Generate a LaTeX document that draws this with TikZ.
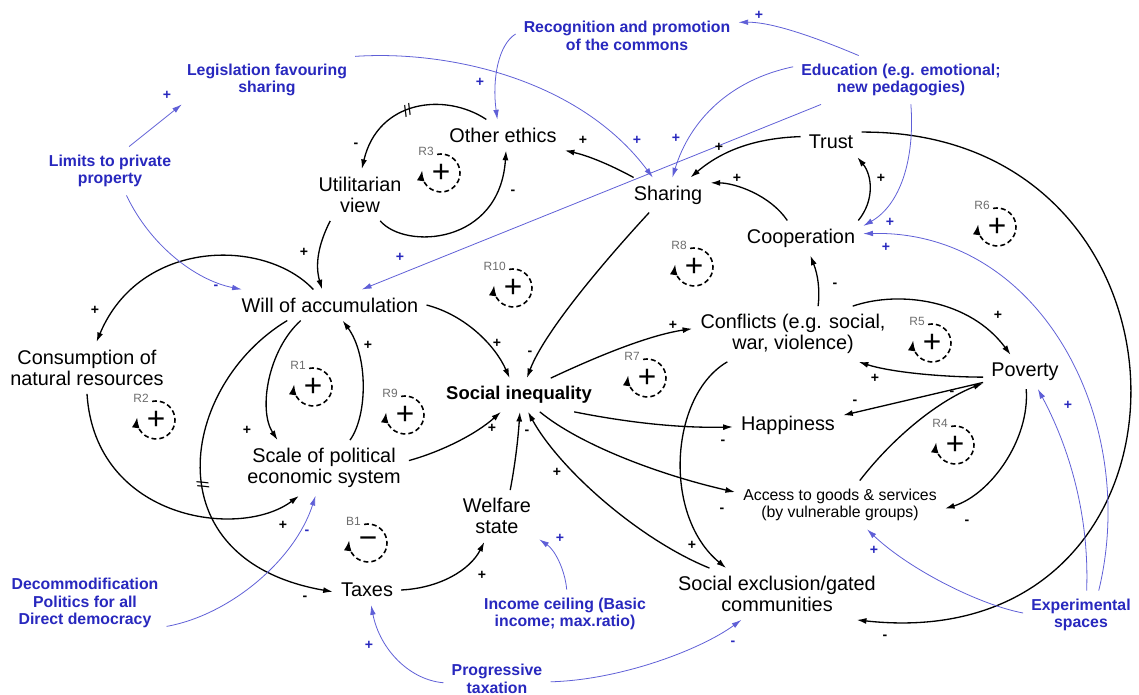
\documentclass[tikz,border=0pt]{standalone}
\usepackage{fontspec}
\setmainfont{Liberation Sans}
\usetikzlibrary{arrows.meta}
\definecolor{policyblue}{RGB}{40,40,190}
\definecolor{linkblue}{RGB}{95,95,215}
\definecolor{loopgrey}{RGB}{110,110,110}

\begin{document}
\begin{tikzpicture}[x=0.02cm,y=-0.02cm,
  varbox/.style={inner sep=4.5pt,align=center,font=\fontsize{11.3}{11.8}\selectfont},
  polbox/.style={inner sep=4.5pt,align=center,text=policyblue,font=\fontsize{9}{10}\selectfont\bfseries},
  arr/.style={line width=0.75pt,-{Latex[length=5.5pt,width=3.4pt]}},
  barr/.style={color=linkblue,line width=0.45pt,-{Latex[length=5.5pt,width=3.2pt]}},
  sgn/.style={inner sep=0pt,font=\fontsize{8}{8}\selectfont\bfseries},
  bsgn/.style={sgn,text=policyblue},
  delaymark/.style={sloped,inner sep=0pt,font=\fontsize{9}{9}\selectfont},
  loopsign/.style={inner sep=0pt,font=\fontsize{18}{18}\selectfont},
  looplabel/.style={inner sep=0pt,anchor=east,text=loopgrey,font=\fontsize{6.8}{6.8}\selectfont},
  looparc/.style={line width=0.9pt,dash pattern=on 2.8pt off 1.7pt,-{Latex[length=6pt,width=4.4pt]}}]
\path[use as bounding box,fill=white] (0,0) rectangle (1139,695);

\node (1) at (330,305) [varbox] {Will of accumulation};
\node (2) at (519,395) [varbox,font=\fontsize{10.5}{12}\selectfont\bfseries] {Social inequality};
\node (3) at (503,135) [varbox] {Other ethics};
\node (4) at (360,195) [varbox] {Utilitarian\\view};
\node (5) at (87,368) [varbox] {Consumption of\\natural resources};
\node (6) at (324,468) [varbox] {Scale of political\\economic system};
\node (7) at (497,516) [varbox] {Welfare\\state};
\node (8) at (367,590) [varbox] {Taxes};
\node (9) at (668,195) [varbox] {Sharing};
\node (10) at (831,142) [varbox] {Trust};
\node (11) at (801,238) [varbox] {Cooperation};
\node (12) at (793,334) [varbox] {Conflicts (e.g. social,\\war, violence)};
\node (13) at (1025,372) [varbox] {Poverty};
\node (14) at (788,425) [varbox] {Happiness};
\node (15) at (840,505) [varbox,font=\fontsize{9}{10}\selectfont] {Access to goods \& services\\(by vulnerable groups)};
\node (16) at (777,594) [varbox] {Social exclusion/gated\\communities};
\node (17) at (627,36) [polbox] {Recognition and promotion\\of the commons};
\node (18) at (267,80) [polbox] {Legislation favouring\\sharing};
\node (19) at (901,80) [polbox] {Education (e.g. emotional;\\new pedagogies)};
\node (20) at (110,171) [polbox] {Limits to private\\property};
\node (21) at (85,603) [polbox] {Decommodification\\Politics for all\\Direct democracy};
\node (22) at (1081,615) [polbox] {Experimental\\spaces};
\node (23) at (565,614) [polbox] {Income ceiling (Basic\\income; max.ratio)};
\node (24) at (497,679) [polbox] {Progressive\\taxation};

\foreach \lp/\x/\y/\s in {R3/441/173/+, R10/513/288/+, R8/694/267/+, R6/997/227/+, R1/313/387/+, R2/156/420/+, R9/405/415/+, R5/932/343/+, R7/647/378/+, R4/955/445/+, B1/368/543/\char"2212}{
  \node[loopsign] (\lp) at (\x,\y) {\s};
  \node[looplabel] (\lp lab) at ([shift={(-7,-22)}]\lp.center) {\lp};
  \draw[looparc] ([shift={(102:0.38cm)}]\lp.center) arc[start angle=102,end angle=-188,radius=0.38cm];
}

\draw[arr] (3.137) .. controls (445,92) and (378,100) .. (4.86) node[delaymark,pos=0.55] (d1) {//};
\draw[arr] (4.-52) .. controls (405,250) and (500,245) .. (3.-79);
\draw[arr] (4.-139) .. controls (318,245) and (315,265) .. (1.117);
\draw[arr] (1.137) .. controls (265,238) and (140,238) .. (5.70);
\draw[arr] (1.208) .. controls (268,350) and (258,410) .. (6.149);
\draw[arr] (6.47) .. controls (368,415) and (368,355) .. (1.-51);
\draw[arr] (1.200) .. controls (180,385) and (150,560) .. (8.183) node[delaymark,pos=0.55] (d2) {//};
\draw[arr] (5.-90) .. controls (95,520) and (240,540) .. (6.228);
\draw[arr] (6.5) .. controls (440,452) and (475,435) .. (2.223);
\draw[arr] (8.east) .. controls (440,588) and (470,570) .. (7.244);
\draw[arr] (1.east) .. controls (465,315) and (495,345) .. (2.119);
\draw[arr] (9.223) .. controls (610,255) and (545,330) .. (2.65);
\draw[arr] (2.28) .. controls (600,355) and (650,335) .. (12.177);
\draw[arr] (2.-17) .. controls (640,425) and (690,428) .. (14.182);
\draw[arr] (2.-39) .. controls (580,445) and (660,475) .. (15.173);
\draw[arr] (16.159) .. controls (640,540) and (560,470) .. (2.-62);
\draw[arr] (7.63) .. controls (515,465) and (518,440) .. (2.-87);
\draw[arr] (12.203) .. controls (670,395) and (662,515) .. (16.153);
\draw[arr] (12.48) .. controls (820,290) and (818,275) .. (11.-62);
\draw[arr] (12.25) .. controls (900,290) and (970,300) .. (13.130);
\draw[arr] (13.187) .. controls (940,377) and (890,372) .. (12.-23);
\draw[arr] (13.194) -- (14.10);
\draw[arr] (15.51) .. controls (895,435) and (940,400) .. (13.195);
\draw[arr] (13.-86) .. controls (1030,440) and (990,495) .. (15.-2);
\draw[arr] (10.18) .. controls (1220,130) and (1220,660) .. (16.-18);
\draw[arr] (9.153) .. controls (605,162) and (585,155) .. (3.-14);
\draw[arr] (10.170) .. controls (760,138) and (725,148) .. (9.38);
\draw[arr] (11.128) .. controls (770,195) and (735,183) .. (9.16);
\draw[arr] (11.17) .. controls (875,200) and (872,175) .. (10.-30);

\draw[barr] (20.52) -- (18.196);
\draw[barr] (20.-56) .. controls (150,245) and (195,280) .. (1.170);
\draw[barr] (18.15) .. controls (450,50) and (580,80) .. (9.131);
\draw[barr] (17.179) .. controls (498,45) and (492,80) .. (3.110);
\draw[barr] (19.150) .. controls (810,35) and (770,22) .. (17.7);
\draw[barr] (19.173) .. controls (730,80) and (690,120) .. (9.76);
\draw[barr] (19.197) -- (1.26);
\draw[barr] (19.-68) .. controls (915,160) and (900,205) .. (11.11);
\draw[barr] (22.54) .. controls (1140,420) and (1040,230) .. (11.4);
\draw[barr] (22.77) .. controls (1090,500) and (1060,430) .. (13.-53);
\draw[barr] (22.178) .. controls (980,605) and (910,570) .. (15.-42);
\draw[barr] (21.-16) .. controls (230,615) and (295,560) .. (6.-107);
\draw[barr] (23.86) .. controls (565,570) and (555,550) .. (7.-29);
\draw[barr] (24.184) .. controls (410,680) and (380,650) .. (8.-75);
\draw[barr] (24.-3) .. controls (620,680) and (700,650) .. (16.-144);

\foreach \x/\y/\t in {356/145/-, 513/192/-, 304/252/+, 95/310/+, 247/430/+, 368/345/+, 305/598/-, 283/525/+, 492/428/+, 482/575/+, 497/343/+, 530/353/-, 673/325/+, 723/442/-, 722/510/-, 557/472/+, 527/432/-, 692/545/+, 835/285/-, 998/315/+, 875/378/+, 855/402/-, 952/393/-, 967/522/-, 885/637/-, 583/140/+, 719/147/+, 737/178/+, 881/178/+}
  \node[sgn] (s\x-\y) at (\x,\y) {\t};
\foreach \x/\y/\t in {167/95/+, 216/287/-, 637/140/+, 480/82/+, 759/15/+, 676/138/+, 400/257/+, 890/222/+, 886/247/+, 1068/405/+, 874/550/+, 307/532/-, 560/538/+, 369/645/+, 733/643/-}
  \node[bsgn] (b\x-\y) at (\x,\y) {\t};
\end{tikzpicture}
\end{document}
